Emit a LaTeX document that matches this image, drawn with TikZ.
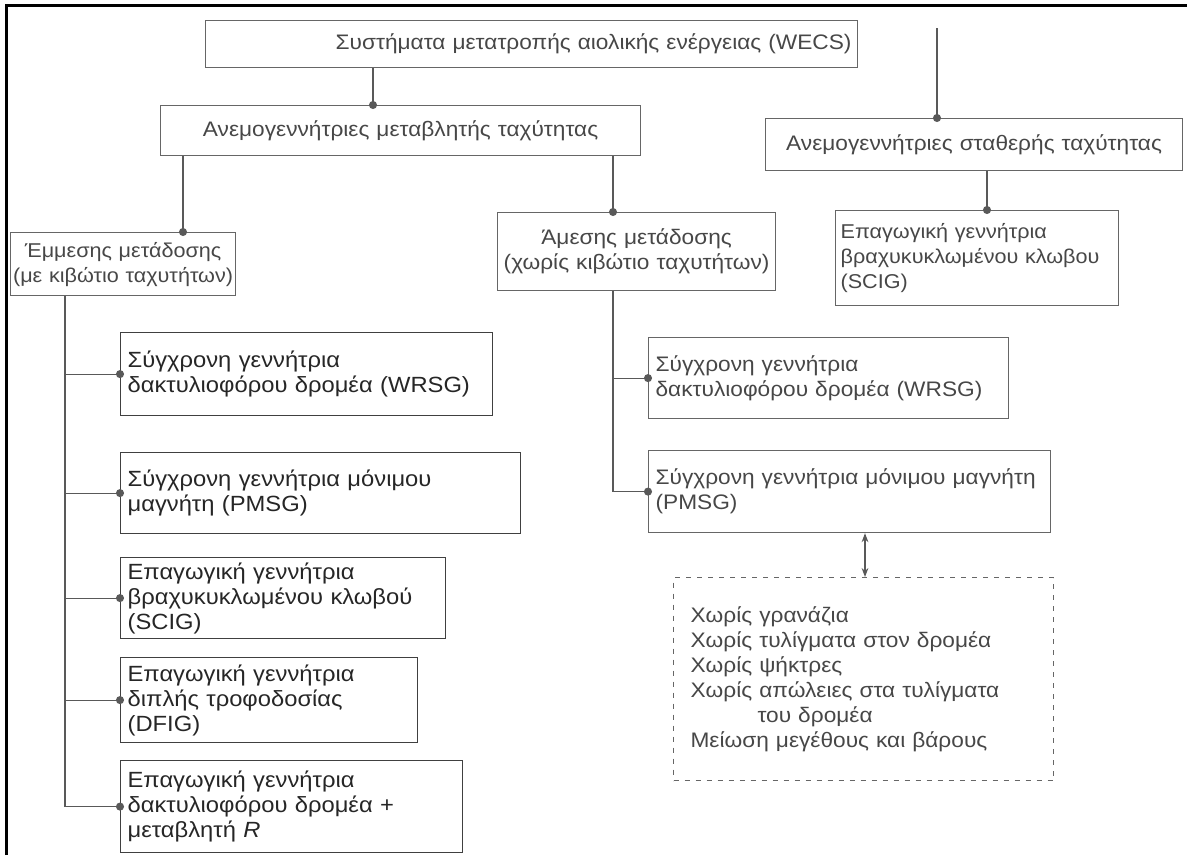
\documentclass[tikz,border=0pt]{standalone}
\usepackage{fontspec}
\setmainfont[FakeStretch=1.08]{Liberation Sans}
\usepackage{tikz}
\usetikzlibrary{positioning, arrows.meta, calc}

\tikzset{
    gbox/.style={draw=black!60, line width=1.2pt, rectangle, anchor=north west,
        inner xsep=7pt, inner ysep=0pt, text=black!72,
        font=\fontsize{21}{25}\selectfont},
    darkbox/.style={gbox, draw=black!75, text=black!85, font=\fontsize{22}{25}\selectfont},
    dotline/.style={draw=black!65, line width=1.2pt, -{Circle[length=8pt]}, shorten >=-4pt},
    plainline/.style={draw=black!65, line width=1.2pt},
}

\begin{document}
\begin{tikzpicture}[x=1pt, y=-1pt]
            \useasboundingbox (0,0) rectangle (1187,855);

            % frame of the page
            \draw[line width=3pt] (6,855) -- (6,5) -- (1187,5);

            % top levels
            \node[gbox, minimum width=652, minimum height=47, text width=640, inner xsep=6pt, align=right]
                (wecs) at (205,20) {Συστήματα μετατροπής αιολικής ενέργειας (WECS)};
            \node[gbox, minimum width=480, minimum height=50, text width=466, align=center]
                (var) at (160,105) {Ανεμογεννήτριες μεταβλητής ταχύτητας};
            \node[gbox, minimum width=417, minimum height=52, text width=409, inner xsep=4pt, align=center]
                (fixed) at (765,118) {Ανεμογεννήτριες σταθερής ταχύτητας};

            \node[gbox, minimum width=225, minimum height=63, text width=221, inner xsep=2pt, align=center,
                font=\fontsize{20}{25}\selectfont]
                (emm) at (10,232) {Έμμεσης μετάδοσης\\(με κιβώτιο ταχυτήτων)};
            \node[gbox, minimum width=278, minimum height=78, text width=268, inner xsep=5pt, align=center]
                (amm) at (497,212) {Άμεσης μετάδοσης\\(χωρίς κιβώτιο ταχυτήτων)};
            \node[gbox, minimum width=283, minimum height=95, text width=273, inner xsep=5pt, align=left,
                font=\fontsize{20}{25}\selectfont]
                (scigf) at (835,210) {Επαγωγική γεννήτρια\\βραχυκυκλωμένου κλωβου\\(SCIG)};

            % left column (indirect drive)
            \foreach \name/\ytop/\w/\h/\txt in {
                L1/332/372/83/{Σύγχρονη γεννήτρια\\δακτυλιοφόρου δρομέα (WRSG)},
                L2/452/400/81/{Σύγχρονη γεννήτρια μόνιμου\\μαγνήτη (PMSG)},
                L3/557/325/81/{Επαγωγική γεννήτρια\\βραχυκυκλωμένου κλωβού\\(SCIG)},
                L4/657/297/85/{Επαγωγική γεννήτρια\\διπλής τροφοδοσίας\\(DFIG)},
                L5/760/342/92/{Επαγωγική γεννήτρια\\δακτυλιοφόρου δρομέα +\\μεταβλητή \textit{R}}}
            {
                \node[darkbox, minimum width=\w, minimum height=\h, text width=\w-14, align=left]
                    (\name) at (120,\ytop) {\txt};
            }

            % right column (direct drive)
            \node[gbox, minimum width=360, minimum height=81, text width=346, align=left]
                (R1) at (648,337) {Σύγχρονη γεννήτρια\\δακτυλιοφόρου δρομέα (WRSG)};
            \node[gbox, minimum width=402, minimum height=82, text width=388, align=left]
                (R2) at (648,450) {Σύγχρονη γεννήτρια μόνιμου μαγνήτη\\(PMSG)\\[12pt]};

            \node[gbox, dashed, dash pattern=on 5pt off 6pt, minimum width=380, minimum height=203,
                text width=346, inner xsep=17pt, align=left]
                (adv) at (673,577) {Χωρίς γρανάζια\\Χωρίς τυλίγματα στον δρομέα\\Χωρίς ψήκτρες\\
                Χωρίς απώλειες στα τυλίγματα\\\hspace*{67pt}του δρομέα\\Μείωση μεγέθους και βάρους};

            % trunk positions
            \coordinate (tA) at (373,0);
            \coordinate (tB) at (937,28);
            \coordinate (tC) at (183,0);
            \coordinate (tD) at (613,0);
            \coordinate (tE) at (987,0);
            \coordinate (tL) at (65,0);
            \coordinate (tM) at (865,0);

            % connectors from the top
            \draw[dotline] (wecs.south -| tA) -- (var.north -| tA);
            \draw[dotline] (tB) -- (tB |- fixed.north);
            \draw[dotline] (var.south -| tC) -- (emm.north -| tC);
            \draw[dotline] (var.south -| tD) -- (amm.north -| tD);
            \draw[dotline] (fixed.south -| tE) -- (scigf.north -| tE);

            % draw trunks
            \draw[plainline] (emm.south -| tL) -- (tL |- L5.west);
            \draw[plainline] (amm.south -| tD) -- (tD |- R2.west);

            % draw branches
            \foreach \name in {L1,L2,L3,L4,L5}
            {
                \draw[dotline] (\name.west -| tL) -- (\name.west);
            }
            \foreach \name in {R1,R2}
            {
                \draw[dotline] (\name.west -| tD) -- (\name.west);
            }

            % advantages of the direct drive PMSG
            \draw[plainline, {Stealth[length=9pt]}-{Stealth[length=9pt]}]
                (R2.south -| tM) -- (adv.north -| tM);
        \end{tikzpicture}
\end{document}
